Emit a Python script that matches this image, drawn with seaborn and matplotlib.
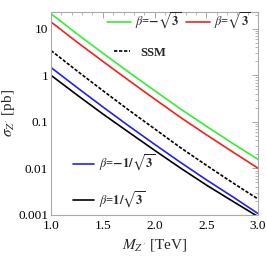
import pandas as pd
import matplotlib
matplotlib.use("Agg")
import matplotlib.pyplot as plt
import seaborn as sns
from matplotlib.lines import Line2D

mass = [1.0, 1.25, 1.5, 1.75, 2.0, 2.25, 2.5, 2.75, 3.0]
xs_green = [21, 7.8, 3.0, 1.17, 0.47, 0.19, 0.081, 0.035, 0.0156]
xs_red = [14, 5.2, 2.0, 0.78, 0.31, 0.125, 0.053, 0.023, 0.0101]
xs_ssm = [3.4, 1.25, 0.47, 0.18, 0.071, 0.028, 0.0117, 0.0050, 0.0022]
xs_blue = [1.47, 0.55, 0.21, 0.082, 0.033, 0.0135, 0.0057, 0.0025, 0.00107]
xs_black = [1.0, 0.38, 0.148, 0.06, 0.0245, 0.0102, 0.0044, 0.0020, 0.00092]

labels = {
    "green": r"$\beta$=$\mathbf{-\sqrt{3}}$",
    "red": r"$\beta$=$\mathbf{\sqrt{3}}$",
    "ssm": "SSM",
    "blue": r"$\beta$=$\mathbf{-1/\sqrt{3}}$",
    "black": r"$\beta$=$\mathbf{1/\sqrt{3}}$",
}

sns.set_theme(style="white")
plt.rcParams["font.family"] = ["Liberation Serif", "DejaVu Serif"]
plt.rcParams["mathtext.fontset"] = "stix"

frames = []
for key, vals in [("green", xs_green), ("red", xs_red), ("ssm", xs_ssm),
                  ("blue", xs_blue), ("black", xs_black)]:
    frames.append(pd.DataFrame({"M": mass, "sigma": vals, "model": key}))
df = pd.concat(frames, ignore_index=True)

colors = {"green": "#33ee33", "red": "#ee2222", "ssm": "black",
          "blue": "#2222ee", "black": "black"}
styles = {"green": "-", "red": "-", "ssm": (0, (2, 1)), "blue": "-", "black": "-"}

fig = plt.figure(figsize=(2.66, 2.66), dpi=100)
ax = fig.add_axes([0.192, 0.192, 0.778, 0.763])

for key in ["green", "red", "ssm", "blue", "black"]:
    sub = df[df["model"] == key]
    sns.lineplot(data=sub, x="M", y="sigma", ax=ax, color=colors[key],
                 linestyle=styles[key], linewidth=1.2, legend=False)

ax.set_yscale("log")
ax.set_xlim(1.0, 3.0)
ax.set_ylim(0.001, 23)
ax.set_xticks([1.0, 1.5, 2.0, 2.5, 3.0])
ax.set_xticklabels(["1.0", "1.5", "2.0", "2.5", "3.0"])
ax.set_yticks([0.001, 0.01, 0.1, 1, 10])
ax.set_yticklabels(["0.001", "0.01", "0.1", "1", "10"])
ax.xaxis.set_minor_locator(matplotlib.ticker.MultipleLocator(0.1))
ax.tick_params(which="both", direction="in", top=True, right=True,
               colors="#999999", labelcolor="black", labelsize=9.5)
ax.tick_params(axis="x", pad=4)
ax.tick_params(axis="y", pad=2)
ax.tick_params(which="major", length=4, width=0.6)
ax.tick_params(which="minor", length=2, width=0.5)
for s in ax.spines.values():
    s.set_color("#aaaaaa")
    s.set_linewidth(0.8)

ax.set_xlabel(r"$M_{Z^{\prime}}$ [TeV]", fontsize=11, labelpad=3)
ax.set_ylabel(r"$\sigma_{Z^{\prime}}$ [pb]", fontsize=11, labelpad=1)

def handle(key):
    return Line2D([], [], color=colors[key], linestyle=styles[key], linewidth=1.2)

font = {"weight": "bold", "size": 9}
leg1 = ax.legend([handle("green"), handle("red")], [labels["green"], labels["red"]],
                 loc="center right", bbox_to_anchor=(1.0, 0.955), ncol=2,
                 frameon=False, prop=font, handlelength=1.9, columnspacing=0.4,
                 handletextpad=0.3, borderaxespad=0.2)
ax.add_artist(leg1)
leg2 = ax.legend([handle("ssm")], [labels["ssm"]], loc="center left",
                 bbox_to_anchor=(0.25, 0.80), frameon=False, prop=font,
                 handlelength=1.3, handletextpad=0.8)
ax.add_artist(leg2)
ax.legend([handle("blue"), handle("black")], [labels["blue"], labels["black"]],
          loc="center left", bbox_to_anchor=(0.05, 0.165), frameon=False,
          prop=font, handlelength=1.7, handletextpad=0.4, labelspacing=1.3)

fig.savefig("out.png", dpi=100)
